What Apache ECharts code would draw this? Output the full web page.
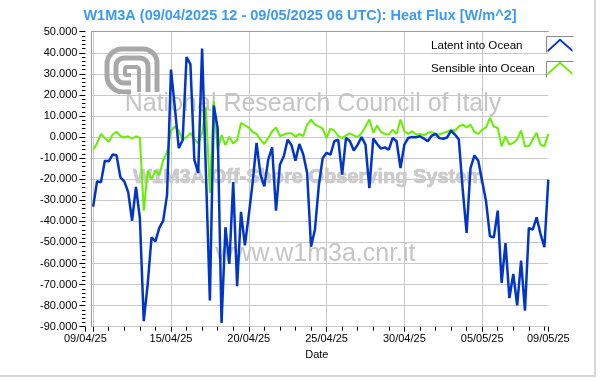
<!DOCTYPE html>
<html><head><meta charset="utf-8">
<script src="https://cdn.jsdelivr.net/npm/echarts@6/dist/echarts.min.js"></script>
<style>html,body{margin:0;padding:0;background:#fff}#c{width:600px;height:381px}</style>
</head><body><div id="c"></div>
<script>
// time in days since 05/04/2025 00:00 UTC
const baseDateUTC = Date.UTC(2025, 3, 5);
const axisMinDay = 4.5;    // 09/04/2025 12 UTC
const axisMaxDay = 34.25;  // 09/05/2025 06 UTC
const firstSampleDay = 5;  // 10/04/2025 00 UTC
const sampleStepDays = 0.25; // 6-hourly

const seriesNames = ['Latent into Ocean', 'Sensible into Ocean'];

const latent = [
  -33, -21, -21.5, -11.2, -11.5, -8.3, -8.6, -19.1, -21, -26.1,
  -39.7, -23.7, -38.4, -87.4, -70, -47.6, -49.5, -43.1, -39.7, -27.3,
  32, 14, -5.2, -1.5, 38, 34.5, -10.7, -17, 42, -18,
  -77.6, 15, 4.3, -88.2, -42.8, -60.2, -21.3, -70.8, -35.5, -51.4,
  -37, -21.5, -2.8, -17.8, -23.4, -10.7, -4.9, -34.9, -13.1, -9.1,
  -1.2, -3.9, -11.2, -3.3, -8.3, -17, -52, -44, -23, -10,
  -7.5, -8.3, -2, -1.2, -17.8, -0.4, -2, -6.4, -3.6, 0,
  -3.6, -24.2, -0.7, -3.3, -5.5, -4.9, -6, -0.4, -2, -14.7,
  -3.6, -0.4, 0, -0.1, 0.4, -0.7, -2, 0.6, 1.5, -0.5,
  -0.8, -0.2, 3, 1.2, -1.2, -25, -45.5, -14.7, -8.8, -11.2,
  -21, -30.5, -47.1, -47.6, -34.9, -69.2, -50.3, -76.4, -65, -79.9,
  -58.6, -82.4, -43.1, -43.9, -38.1, -46, -52.3, -20.2
];

const sensible = [
  -6, -3, 1.5, -0.5, -2.2, 1.2, 2.5, 0.5, -0.2, 0.4,
  -0.8, 0.4, -0.4, -35, -16, -20, -16, -18, -11, -7,
  3, 5, 3, -1, 0, 2, -1, -3, 2, 14,
  -26.5, 17, -6, 1, -3.8, 0.2, -3, -1.5, 6.7, 5.6,
  4.6, 2.4, 1.5, -1.2, -3.3, -0.4, 2.7, 4.6, 0.4, 1.2,
  1.8, 1.8, 0.2, 1.5, 0.4, 5.9, 8.3, 5.9, 5.1, 4,
  -0.5, 4, 3, 0.5, -0.5, 0.8, 1.8, 0.8, 0, 1.8,
  5, 8.3, 2, 5.5, 2.4, 1.5, 1.2, 3.5, 1.5, 8.3,
  2.7, 1.5, 2.7, 1.2, 1.5, 0.8, 2, 2.4, 1.5, 1.2,
  2, 2.5, 3.5, 3, 5, 5.9, 4.6, 5.9, 2.4, 1.5,
  3.5, 4.6, 9.1, 5, 4.3, -4.4, 0.4, -3.6, -2.8, -1.2,
  3.1, -4.4, -4.4, -1.2, 2, -3.6, -4.4, 1.5
];

const yMin = -90, yMax = 50, yStep = 10;
const hiddenXLabelDays = [5];

function dayLabel(d) {
  const dt = new Date(baseDateUTC + d * 86400000);
  const p = n => String(n).padStart(2, '0');
  return p(dt.getUTCDate()) + '/' + p(dt.getUTCMonth() + 1) + '/' + p(dt.getUTCFullYear() % 100);
}
function toPairs(arr) {
  return arr.map((v, i) => [firstSampleDay + i * sampleStepDays, v]);
}

const FONT = '"Liberation Sans", Arial, sans-serif';
const chevron = 'path://M0,13 L13,1 L26,12.5 L26,15 L13,3.6 L0,15.6 Z';
const gridCol = '#c9c9c9';
const frameCol = '#9c9c9c';
const wm = '#c5c5c5';

const logoSvg = '<svg xmlns="http://www.w3.org/2000/svg" width="56" height="48" viewBox="0 0 56 48">' +
  '<g fill="none" stroke="#a8a8a8" stroke-linecap="butt">' +
  '<path stroke-width="5" d="M53,46 L53,17 A14,14 0 0 0 39,3 L18,3 A15,15 0 0 0 3,18 L3,30 A16,16 0 0 0 19,46 L27,46"/>' +
  '<path stroke-width="5" d="M44,46 L44,20 A8,8 0 0 0 36,12 L20,12 A8,8 0 0 0 12,20 L12,29 A8,8 0 0 0 20,37 L27,37"/>' +
  '<path stroke-width="4" d="M35,46 L35,24 A3,3 0 0 0 32,21 L23,21 A2,2 0 0 0 21,23 L21,27 A2,2 0 0 0 23,29 L27,29"/>' +
  '</g></svg>';

const chart = echarts.init(document.getElementById('c'), null, {renderer: 'canvas'});
chart.setOption({
  animation: false,
  backgroundColor: '#fff',
  title: {
    text: 'W1M3A (09/04/2025 12 - 09/05/2025 06 UTC): Heat Flux [W/m^2]',
    left: 'center', top: 3,
    textStyle: {fontFamily: FONT, fontSize: 14.5, fontWeight: 'bold', color: '#3a9af4'}
  },
  grid: [
    {left: 85.4, right: 51.7, top: 31.7, bottom: 54.3},
    {left: 91.7, right: 51.7, top: 31.7, bottom: 54.3}
  ],
  legend: {
    orient: 'vertical', left: 431, top: 38.5, padding: 0,
    itemWidth: 26, itemHeight: 14, itemGap: 9, align: 'right',
    selectedMode: false,
    formatter: n => '{a|' + n + '}',
    textStyle: {rich: {a: {width: 111, align: 'left', fontFamily: FONT, fontSize: 11.6, color: '#000', lineHeight: 14}}},
    itemStyle: {borderWidth: 0},
    data: seriesNames.map(n => ({name: n, icon: chevron}))
  },
  xAxis: [
    {
      gridIndex: 0, type: 'value', min: axisMinDay, max: axisMaxDay,
      minInterval: 5, maxInterval: 5, splitNumber: 6,
      axisLine: {show: false, onZero: false},
      axisTick: {show: true, length: 5, lineStyle: {color: '#000'}},
      minorTick: {show: true, splitNumber: 5, length: 4, lineStyle: {color: '#000'}},
      axisLabel: {
        margin: 7, color: '#000', fontFamily: FONT, fontSize: 11,
        showMinLabel: true, showMaxLabel: true,
        formatter: v => hiddenXLabelDays.includes(v) ? '' : dayLabel(v)
      },
      splitLine: {show: true, showMinLine: false, showMaxLine: false, lineStyle: {color: gridCol}},
      name: 'Date', nameLocation: 'middle', nameGap: 22,
      nameTextStyle: {fontFamily: FONT, fontSize: 11, color: '#000'}
    },
    {
      gridIndex: 1, type: 'value', position: 'top', min: 0, max: 1,
      axisLine: {show: true, onZero: false, lineStyle: {color: frameCol}},
      axisTick: {show: false}, axisLabel: {show: false}, splitLine: {show: false}
    }
  ],
  yAxis: [
    {
      gridIndex: 0, type: 'value', min: yMin, max: yMax, interval: yStep,
      axisLine: {show: false, onZero: false},
      axisTick: {show: true, length: 6, lineStyle: {color: '#000'}},
      minorTick: {show: true, splitNumber: 5, length: 3.5, lineStyle: {color: '#000'}},
      axisLabel: {margin: 8, color: '#000', fontFamily: FONT, fontSize: 11, formatter: v => v.toFixed(3)},
      splitLine: {show: false}
    },
    {
      gridIndex: 1, type: 'value', min: yMin, max: yMax, interval: yStep,
      axisLine: {show: true, onZero: false, lineStyle: {color: frameCol}},
      axisTick: {show: false}, axisLabel: {show: false},
      splitLine: {show: true, lineStyle: {color: gridCol}}
    }
  ],
  series: [
    {
      name: seriesNames[0], type: 'line', xAxisIndex: 0, yAxisIndex: 0,
      data: toPairs(latent), symbol: 'none', color: '#0035c8',
      lineStyle: {width: 2.5, color: '#0035c8'}, z: 4
    },
    {
      name: seriesNames[1], type: 'line', xAxisIndex: 0, yAxisIndex: 0,
      data: toPairs(sensible), symbol: 'none', color: '#66f000',
      lineStyle: {width: 2, color: '#66f000'}, z: 3
    }
  ],
  graphic: [
    {type: 'text', z: 1, silent: true, style: {x: 313, y: 104, text: 'National Research Council of Italy', font: '25px ' + FONT, fill: wm, align: 'center', verticalAlign: 'middle'}},
    {type: 'text', z: 1, silent: true, style: {x: 308.5, y: 177, text: 'W1M3A Off-Shore Observing System', font: 'bold 20px ' + FONT, fill: '#cbcbcb', stroke: '#b9b9b9', lineWidth: 0.6, align: 'center', verticalAlign: 'middle'}},
    {type: 'text', z: 1, silent: true, style: {x: 315.5, y: 253.7, text: 'www.w1m3a.cnr.it', font: '25px ' + FONT, fill: wm, align: 'center', verticalAlign: 'middle'}},
    {type: 'image', z: 1, silent: true, style: {image: 'data:image/svg+xml;charset=utf-8,' + encodeURIComponent(logoSvg), x: 104, y: 46, width: 56, height: 48}},
    {type: 'polyline', z: 5, silent: true, shape: {points: [[546.5, 52.5], [546.5, 36.5], [573.5, 36.5]]}, style: {fill: null, stroke: '#8a8a8a', lineWidth: 1}},
    {type: 'polyline', z: 5, silent: true, shape: {points: [[546.5, 77.5], [546.5, 61.5], [573.5, 61.5]]}, style: {fill: null, stroke: '#8a8a8a', lineWidth: 1}},
    {type: 'line', silent: true, shape: {x1: 595, y1: 0, x2: 595, y2: 376}, style: {stroke: '#d6d6d6', lineWidth: 2}},
    {type: 'line', silent: true, shape: {x1: 0, y1: 376, x2: 596, y2: 376}, style: {stroke: '#d6d6d6', lineWidth: 2}}
  ]
});
</script>
</body></html>
